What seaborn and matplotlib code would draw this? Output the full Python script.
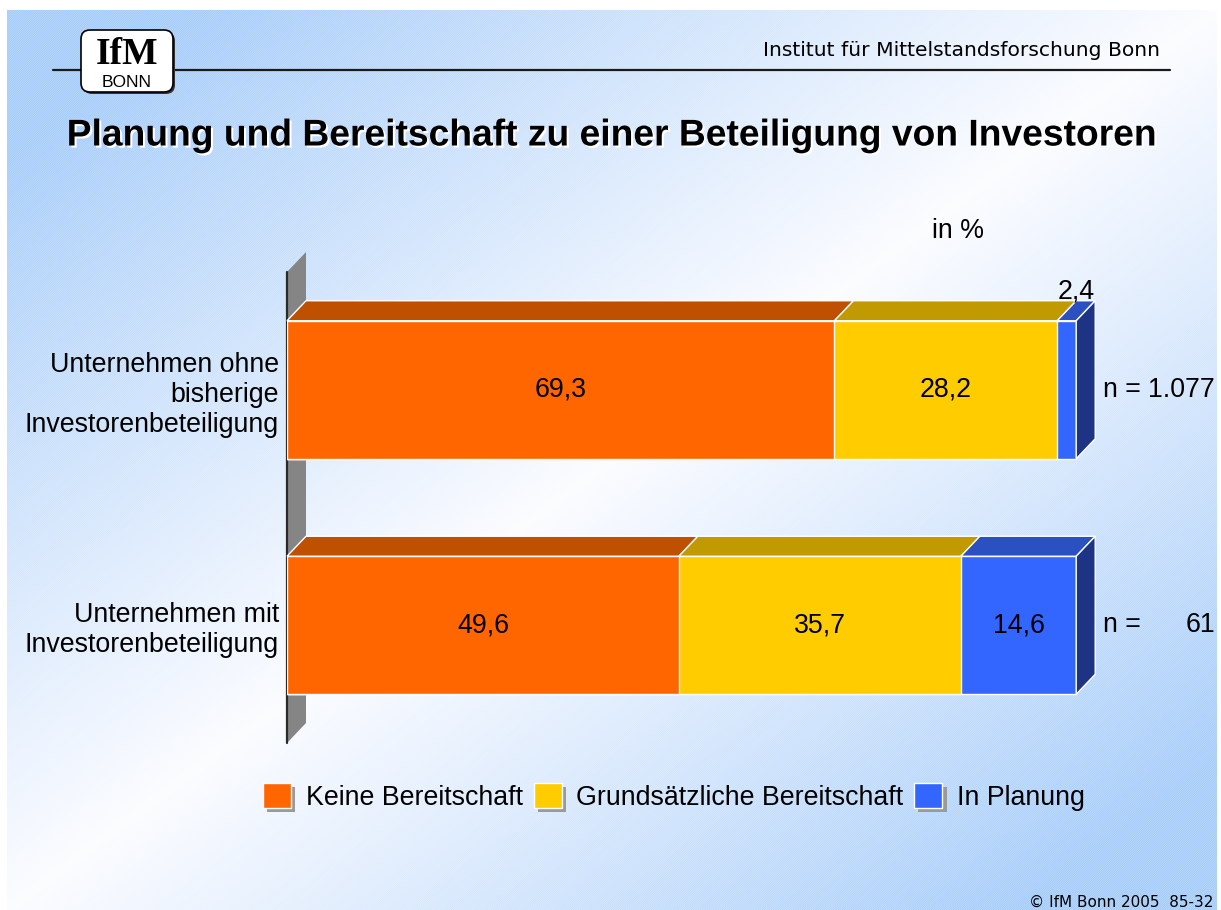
import numpy as np
import pandas as pd
import matplotlib
matplotlib.use("Agg")
import matplotlib.pyplot as plt
import matplotlib.patheffects as pe
from matplotlib.patches import Polygon, Rectangle, FancyBboxPatch, Patch
import seaborn as sns

# Daten
categories = ["Unternehmen ohne\nbisherige\nInvestorenbeteiligung",
              "Unternehmen mit\nInvestorenbeteiligung"]
series = ["Keine Bereitschaft", "Grundsätzliche Bereitschaft", "In Planung"]
keine = [69.3, 49.6]
grundsaetzlich = [28.2, 35.7]
planung = [2.4, 14.6]
n_labels = ["1.077", "61"]

front_colors = ["#FF6600", "#FFCC00", "#3366FF"]
top_colors = ["#BF5000", "#C09A00", "#2A50C2"]
side_colors = ["#A04000", "#A08000", "#1C3483"]

sns.set_theme(style="white")
plt.rcParams["font.family"] = ["Liberation Sans", "DejaVu Sans"]
plt.rcParams["text.color"] = "black"
plt.rcParams["ytick.color"] = "black"
plt.rcParams["ytick.labelcolor"] = "black"
plt.rcParams["hatch.linewidth"] = 0.6

W, H = 1221, 910
FS = 19.3
fig = plt.figure(figsize=(W / 100, H / 100), dpi=100, facecolor="white")

# Hintergrund (Folie) in Pixelkoordinaten
bg = fig.add_axes([0, 0, 1, 1], zorder=-10)
bg.set_axis_off()
xx, yy = np.meshgrid(np.linspace(0, 1, 400), np.linspace(0, 1, 300))
t = (xx + yy) / 2
f = np.clip(np.abs(t - 0.5) / 0.42, 0, 1)
blue = np.array([0.62, 0.785, 0.98])
white = np.array([0.985, 0.99, 1.0])
img = white + (blue - white) * f[..., None]
bg.imshow(img, extent=(7, 1217, 910, 10), aspect="auto", interpolation="bilinear")
bg.add_patch(Rectangle((7, 10), 1210, 900, fill=False, hatch="/" * 15,
                       edgecolor=(1, 1, 1, 0.3), linewidth=0))
bg.set_xlim(0, W)
bg.set_ylim(H, 0)

# Kopfzeile und Logo
bg.plot([53, 1170], [70, 70], color="#1a1a1a", lw=1.6, zorder=2)
bg.add_patch(FancyBboxPatch((83, 32), 92, 62, boxstyle="round,pad=0,rounding_size=9",
                            facecolor="#333333", edgecolor="none", zorder=3))
bg.add_patch(FancyBboxPatch((81, 30), 92, 62, boxstyle="round,pad=0,rounding_size=9",
                            facecolor="white", edgecolor="black", lw=1.2, zorder=4))
bg.text(127, 64, "IfM", family="Liberation Serif", weight="bold", fontsize=27,
        ha="center", va="baseline", zorder=5)
bg.text(127, 87, "BONN", fontsize=12.5, ha="center", va="baseline", zorder=5)
bg.text(1160, 50, "Institut für Mittelstandsforschung Bonn", family="DejaVu Sans",
        fontsize=14.6, ha="right", va="center")
bg.text(612, 136, "Planung und Bereitschaft zu einer Beteiligung von Investoren",
        fontsize=26.8, weight="bold", ha="center", va="center",
        path_effects=[pe.withSimplePatchShadow(offset=(1.5, -1.5),
                                               shadow_rgbFace="white", alpha=1)])
bg.text(958, 231, "in %", fontsize=FS, ha="center", va="center")
bg.text(1213, 902, "© IfM Bonn 2005  85-32", family="DejaVu Sans", fontsize=11,
        ha="right", va="center")

# Diagramm
ax = fig.add_axes([287 / W, 1 - 743 / H, 790 / W, 471 / H])
ax.patch.set_visible(False)
bar_w = 0.586
values = [keine, grundsaetzlich, planung]
cum = np.cumsum(values, axis=0)

for i in [2, 1, 0]:
    sns.barplot(x=cum[i], y=categories, orient="h", color=front_colors[i],
                saturation=1, width=bar_w, errorbar=None, edgecolor="white",
                linewidth=1, ax=ax, zorder=2)

ax.set_xlim(0, 100)
ax.set_ylim(1.5, -0.5)
dxd = 19 / 7.9
dyd = 20 / 235.5

# Rückwand
ax.add_patch(Polygon([(0, -0.5), (dxd, -0.5 - dyd), (dxd, 1.5 - dyd), (0, 1.5)],
                     closed=True, facecolor="#858585", edgecolor="none",
                     clip_on=False, zorder=0.5))
ax.plot([0, 0], [-0.5, 1.5], color="#2a2a2a", lw=1.6, clip_on=False, zorder=0.6)

for j in range(len(categories)):
    yt = j - bar_w / 2
    yb = j + bar_w / 2
    for i in range(3):
        a = cum[i - 1][j] if i > 0 else 0
        b = cum[i][j]
        ax.add_patch(Polygon([(a, yt), (b, yt), (b + dxd, yt - dyd), (a + dxd, yt - dyd)],
                             closed=True, facecolor=top_colors[i], edgecolor="white",
                             lw=1, clip_on=False, zorder=3))
        label = f"{values[i][j]:.1f}".replace(".", ",")
        if values[i][j] >= 5:
            ax.text((a + b) / 2, j, label, fontsize=FS, ha="center", va="center", zorder=5)
        else:
            ax.text((a + b) / 2 + dxd / 2, yt - dyd - 0.009, label, fontsize=FS,
                    ha="center", va="baseline", zorder=5)
    end = cum[2][j]
    ax.add_patch(Polygon([(end, yt), (end + dxd, yt - dyd), (end + dxd, yb - dyd), (end, yb)],
                         closed=True, facecolor=side_colors[2], edgecolor="white",
                         lw=1, clip_on=False, zorder=3))
    ax.text(103.3, j, "n =", fontsize=FS, ha="left", va="center")
    ax.text(117.5, j, n_labels[j], fontsize=FS, ha="right", va="center")

ax.set_xlabel("")
ax.set_ylabel("")
ax.set_xticks([])
ax.tick_params(axis="y", length=0, pad=5.8, labelsize=FS, labelcolor="black")
sns.despine(ax=ax, left=True, bottom=True)

# Legende
handles = [Patch(facecolor=c, edgecolor="white", linewidth=1,
                 path_effects=[pe.SimplePatchShadow(offset=(3, -3), shadow_rgbFace="#9a9a9a",
                                                    alpha=1), pe.Normal()])
           for c in front_colors]
leg = fig.legend(handles, series, loc="center", bbox_to_anchor=(674 / W, 1 - 797 / H),
                 ncol=3, frameon=False, fontsize=FS, handlelength=1.05, handleheight=1.05,
                 handletextpad=0.55, columnspacing=0.4, borderaxespad=0)
for txt in leg.get_texts():
    txt.set_color("black")

fig.savefig("out.png", dpi=100, facecolor="white")
